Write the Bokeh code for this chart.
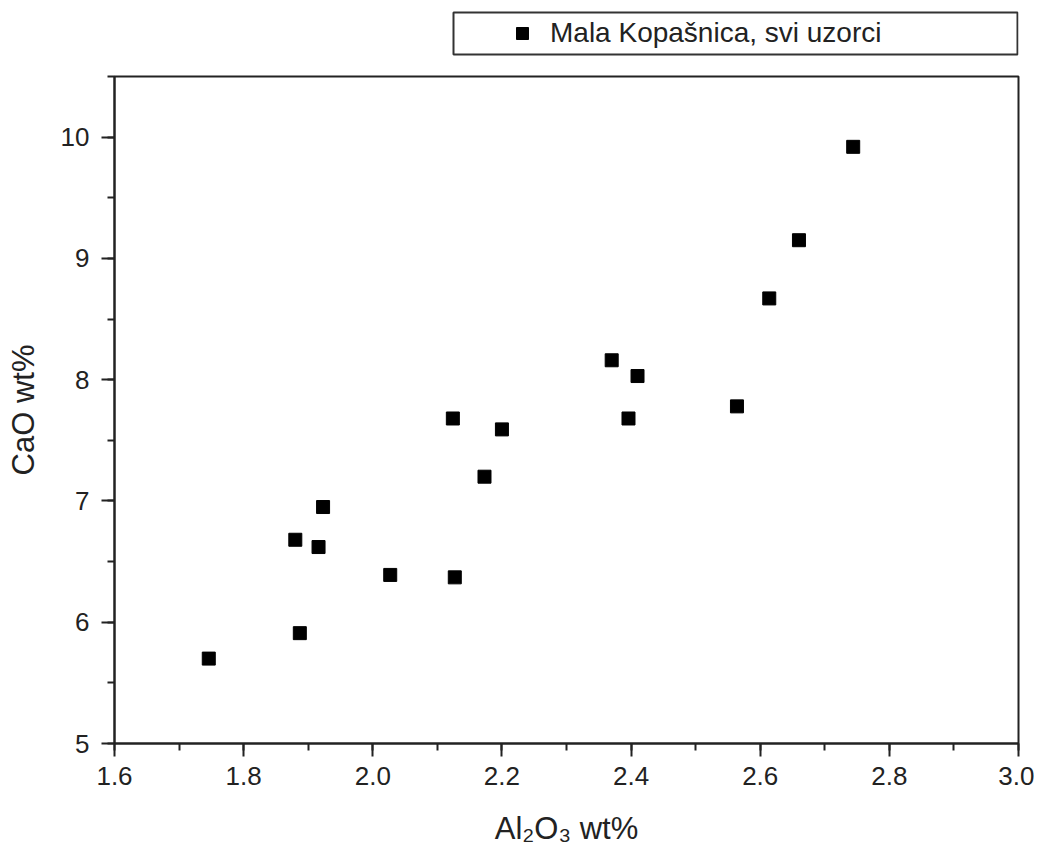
from bokeh.plotting import figure
from bokeh.layouts import column
from bokeh.models import (Range1d, SingleIntervalTicker, NumeralTickFormatter, Legend,
                          LegendItem, BoxAnnotation)
from bokeh.embed import file_html
from bokeh.resources import INLINE

# Data
al2o3 = [1.746, 1.887, 1.880, 1.916, 1.923, 2.027, 2.127, 2.124, 2.173, 2.200,
         2.370, 2.410, 2.396, 2.564, 2.614, 2.660, 2.744]
cao = [5.70, 5.91, 6.68, 6.62, 6.95, 6.39, 6.37, 7.68, 7.20, 7.59,
       8.16, 8.03, 7.68, 7.78, 8.67, 9.15, 9.92]
series_name = "Mala Kopašnica, svi uzorci"
x_label = "Al₂O₃ wt%"
y_label = "CaO wt%"

FONT = "Liberation Sans"
INK = "#222222"

# --- legend strip above the plot (same frame geometry as the plot) ---
lg = figure(frame_width=904, frame_height=72,
            x_range=Range1d(0, 1), y_range=Range1d(0, 1),
            output_backend="svg", toolbar_location=None,
            x_axis_location=None, y_axis_location=None,
            min_border_left=114, min_border_right=16,
            min_border_top=0, min_border_bottom=0,
            background_fill_color="white", border_fill_color="white")
lg.xgrid.visible = False
lg.ygrid.visible = False
lg.outline_line_color = None
# key renderer: same series, its points fall outside this strip's ranges
key = lg.scatter(al2o3, cao, marker="square", size=12, color="black")
# legend box (screen units measured from the strip frame's bottom-left)
lg.add_layout(BoxAnnotation(left=339, right=903, top=60, bottom=18,
                            left_units="screen", right_units="screen",
                            top_units="screen", bottom_units="screen",
                            fill_color=None, fill_alpha=0,
                            line_color="#333333", line_width=2, line_alpha=1))
legend = Legend(items=[LegendItem(label=series_name, renderers=[key])],
                location=(393, 23),
                padding=5, spacing=0, margin=0,
                glyph_width=30, glyph_height=30,
                label_standoff=13, label_height=32,
                label_text_font=FONT, label_text_font_size="28px",
                label_text_color=INK,
                border_line_color=None, background_fill_alpha=0)
lg.add_layout(legend, "center")

# --- main scatter plot ---
p = figure(frame_width=904, frame_height=667,
           x_range=Range1d(1.6, 3.0), y_range=Range1d(5, 10.5),
           output_backend="svg", toolbar_location=None,
           min_border_left=114, min_border_right=16,
           min_border_top=4, min_border_bottom=60,
           background_fill_color="white", border_fill_color="white")

p.xgrid.visible = False
p.ygrid.visible = False
p.outline_line_color = INK
p.outline_line_width = 2

p.scatter(al2o3, cao, marker="square", size=13, color="black")

for ax, tick, fmt, lab, lstand, astand in (
        (p.xaxis[0], SingleIntervalTicker(interval=0.2, num_minor_ticks=2), "0.0", x_label, 10, 23),
        (p.yaxis[0], SingleIntervalTicker(interval=1, num_minor_ticks=2), "0", y_label, 12, 17)):
    ax.ticker = tick
    ax.formatter = NumeralTickFormatter(format=fmt)
    ax.axis_label = lab
    ax.axis_label_text_font = FONT
    ax.axis_label_text_font_size = "31px"
    ax.axis_label_text_font_style = "normal"
    ax.axis_label_text_color = INK
    ax.major_label_text_font = FONT
    ax.major_label_text_font_size = "26px"
    ax.major_label_text_color = INK
    ax.axis_line_width = 2
    ax.axis_line_color = INK
    ax.major_tick_line_width = 2
    ax.minor_tick_line_width = 2
    ax.major_tick_line_color = INK
    ax.minor_tick_line_color = INK
    ax.major_tick_in = 0
    ax.major_tick_out = 13
    ax.minor_tick_in = 0
    ax.minor_tick_out = 7
    ax.major_label_standoff = lstand
    ax.axis_label_standoff = astand

layout = column(lg, p, spacing=0)
open("out.html", "w").write(file_html(layout, INLINE))
